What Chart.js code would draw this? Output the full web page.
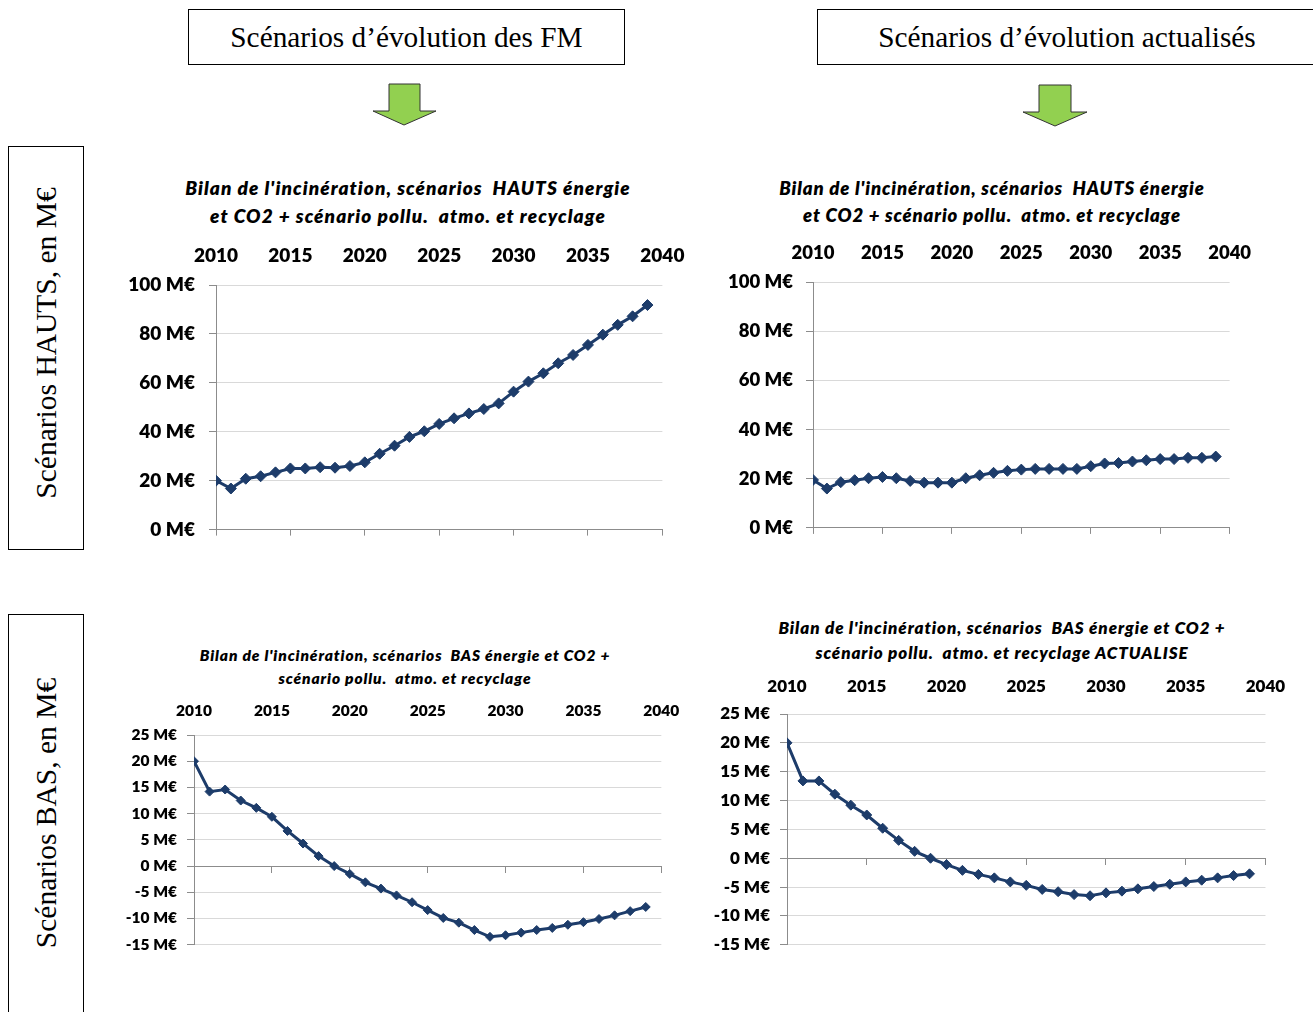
<!DOCTYPE html>
<html lang="fr">
<head>
<meta charset="utf-8">
<title>Bilan de l'incinération</title>
<script src="https://cdn.jsdelivr.net/npm/chart.js@4.4.1/dist/chart.umd.min.js"></script>
<style>
  html, body { margin: 0; padding: 0; background: #fff; }
  body { width: 1313px; height: 1012px; position: relative; overflow: hidden; font-family: 'Liberation Serif', 'Times New Roman', serif; color: #000; }
  .hdr { position: absolute; top: 9px; height: 56px; border: 1.5px solid #000; box-sizing: border-box; font-size: 29.3px; display: flex; align-items: center; justify-content: center; white-space: nowrap; }
  .side { position: absolute; left: 8px; width: 76px; border: 1.5px solid #000; box-sizing: border-box; }
  .side span { position: absolute; left: 50%; transform: translate(-50%, -50%) rotate(-90deg); white-space: nowrap; font-size: 29.5px; }
  .arrows { position: absolute; left: 0; top: 0; }
  .ttl { position: absolute; transform: translateX(-50%); text-align: center; white-space: pre; font-family: Lato, 'Open Sans', sans-serif; font-weight: 800; font-style: italic; color: #000; }
  canvas { position: absolute; display: block; }
</style>
</head>
<body>

<div class="hdr" style="left:188px; width:437px;">Scénarios d’évolution des FM</div>
<div class="hdr" style="left:817px; width:500px;">Scénarios d’évolution actualisés</div>

<svg class="arrows" width="1313" height="140">
  <polygon points="389,84 420,84 420,111 436,111 404,125 373,111 389,111" fill="#92D050" stroke="#333" stroke-width="1"/>
  <polygon points="1039,85 1071,85 1071,112 1087,112 1055,126 1023,112 1039,112" fill="#92D050" stroke="#333" stroke-width="1"/>
</svg>

<div class="side" style="top:146px; height:404px;"><span style="top:196px;">Scénarios HAUTS, en M€</span></div>
<div class="side" style="top:614px; height:420px;"><span style="top:198px;">Scénarios BAS, en M€</span></div>

<div class="ttl" style="left:408px; top:174px; font-size:19px; line-height:28px; letter-spacing:1.08px;">Bilan de l'incinération, scénarios  HAUTS énergie
et CO2 + scénario pollu.  atmo. et recyclage</div>
<div class="ttl" style="left:992px; top:174.5px; font-size:18.5px; line-height:27px; letter-spacing:0.88px;">Bilan de l'incinération, scénarios  HAUTS énergie
et CO2 + scénario pollu.  atmo. et recyclage</div>
<div class="ttl" style="left:405px; top:643.5px; font-size:15.5px; line-height:23px; letter-spacing:0.88px;">Bilan de l'incinération, scénarios  BAS énergie et CO2 +
scénario pollu.  atmo. et recyclage</div>
<div class="ttl" style="left:1002px; top:614.5px; font-size:17px; line-height:25px; letter-spacing:0.91px;">Bilan de l'incinération, scénarios  BAS énergie et CO2 +
scénario pollu.  atmo. et recyclage ACTUALISE</div>

<canvas id="hautsFM" width="586" height="320" style="left:116px; top:235px;"></canvas>
<canvas id="hautsActu" width="556" height="320" style="left:713px; top:232px;"></canvas>
<canvas id="basFM" width="600" height="269" style="left:94px; top:695px;"></canvas>
<canvas id="basActu" width="615" height="296" style="left:687px; top:669px;"></canvas>

<script>
// Bilan annuel de l'incinération (M€), 2010 -> 2039
const years = [2010, 2011, 2012, 2013, 2014, 2015, 2016, 2017, 2018, 2019,
               2020, 2021, 2022, 2023, 2024, 2025, 2026, 2027, 2028, 2029,
               2030, 2031, 2032, 2033, 2034, 2035, 2036, 2037, 2038, 2039];
const yearTicks = [2010, 2015, 2020, 2025, 2030, 2035, 2040];

const hautsFM = [20, 16.8, 20.8, 21.8, 23.4, 25, 25, 25.5, 25.3, 26,
                 27.5, 31, 34.3, 37.9, 40.2, 43.2, 45.5, 47.5, 49.3, 51.6,
                 56.4, 60.5, 63.9, 68, 71.4, 75.5, 79.7, 83.7, 87.2, 91.8];
const hautsActu = [19.5, 16, 18.6, 19.4, 20.2, 20.7, 20.2, 19.1, 18.4, 18.4,
                   18.4, 20.2, 21.4, 22.4, 23.2, 23.7, 24, 24, 24, 24,
                   25.1, 26.2, 26.4, 27, 27.5, 28, 28, 28.5, 28.5, 29];
const basFM = [20, 14.2, 14.6, 12.5, 11.1, 9.4, 6.7, 4.3, 1.9, 0,
               -1.5, -3.1, -4.3, -5.6, -6.9, -8.4, -9.9, -10.8, -12.2, -13.5,
               -13.2, -12.7, -12.2, -11.8, -11.2, -10.7, -10.1, -9.4, -8.6, -7.8];
const basActu = [20, 13.4, 13.4, 11.1, 9.2, 7.5, 5.2, 3.1, 1.2, 0,
                 -1.1, -2.1, -2.8, -3.4, -4.1, -4.7, -5.4, -5.8, -6.3, -6.5,
                 -6.0, -5.7, -5.3, -4.9, -4.5, -4.1, -3.8, -3.4, -3.0, -2.7];

const NAVY = '#1d3c6a';
const INK = '#000';
const GRID = '#d9d9d9';
const AXIS = '#8c8c8c';
const FONT = 'Lato, "Open Sans", sans-serif';

const setYearTicks = s => { s.ticks = yearTicks.map(v => ({ value: v })); };

function bilan(id, o) {
  return new Chart(document.getElementById(id), {
    type: 'line',
    data: {
      datasets: [{
        data: years.map((y, i) => ({ x: y, y: o.values[i] })),
        borderColor: NAVY,
        backgroundColor: NAVY,
        borderWidth: 3,
        pointStyle: 'rectRot',
        pointRadius: o.pointR,
        pointBorderWidth: 1,
        tension: 0
      }]
    },
    options: {
      responsive: false,
      animation: false,
      events: [],
      layout: { autoPadding: false, padding: { top: 0, right: 30, bottom: 5, left: 0 } },
      plugins: { legend: { display: false }, tooltip: { enabled: false } },
      scales: {
        // year labels above the plot
        x: {
          type: 'linear', position: 'top', min: 2010, max: 2040,
          afterBuildTicks: setYearTicks,
          afterFit: s => { s.height = o.xAxisH; },
          grid: { display: false, drawTicks: false },
          border: { display: false },
          ticks: { color: INK, padding: o.xPad, maxRotation: 0, font: { family: FONT, size: o.tickSize, weight: 800 }, callback: v => String(v) }
        },
        // axis line + tick marks (on the 0 line for the BAS charts)
        x2: {
          type: 'linear', position: o.zeroAxis ? { y: 0 } : 'bottom', min: 2010, max: 2040,
          afterBuildTicks: setYearTicks,
          afterFit: s => { s.height = o.zeroAxis ? 0 : 10; },
          grid: { drawOnChartArea: false, color: AXIS, tickLength: 6 },
          border: { color: AXIS },
          ticks: { display: false }
        },
        y: {
          min: o.min, max: o.max,
          afterFit: s => { s.width = 100; },
          grid: { color: GRID, tickColor: AXIS, tickLength: 7 },
          border: { color: AXIS },
          ticks: { stepSize: o.step, color: INK, padding: o.yPad, font: { family: FONT, size: o.tickSize, weight: 800 }, callback: v => v + ' M€' }
        }
      }
    }
  });
}

bilan('hautsFM', { values: hautsFM, min: 0, max: 100, step: 20, xAxisH: 50, xPad: 17.6, tickSize: 19, yPad: 14, pointR: 5.5 });
bilan('hautsActu', { values: hautsActu, min: 0, max: 100, step: 20, xAxisH: 50, xPad: 17.9, tickSize: 18.5, yPad: 13, pointR: 5.5 });
bilan('basFM', { values: basFM, min: -15, max: 25, step: 5, zeroAxis: true, xAxisH: 40, xPad: 14.7, tickSize: 15.5, yPad: 10, pointR: 4.5 });
bilan('basActu', { values: basActu, min: -15, max: 25, step: 5, zeroAxis: true, xAxisH: 45, xPad: 16.8, tickSize: 17, yPad: 10, pointR: 5 });
</script>
</body>
</html>
